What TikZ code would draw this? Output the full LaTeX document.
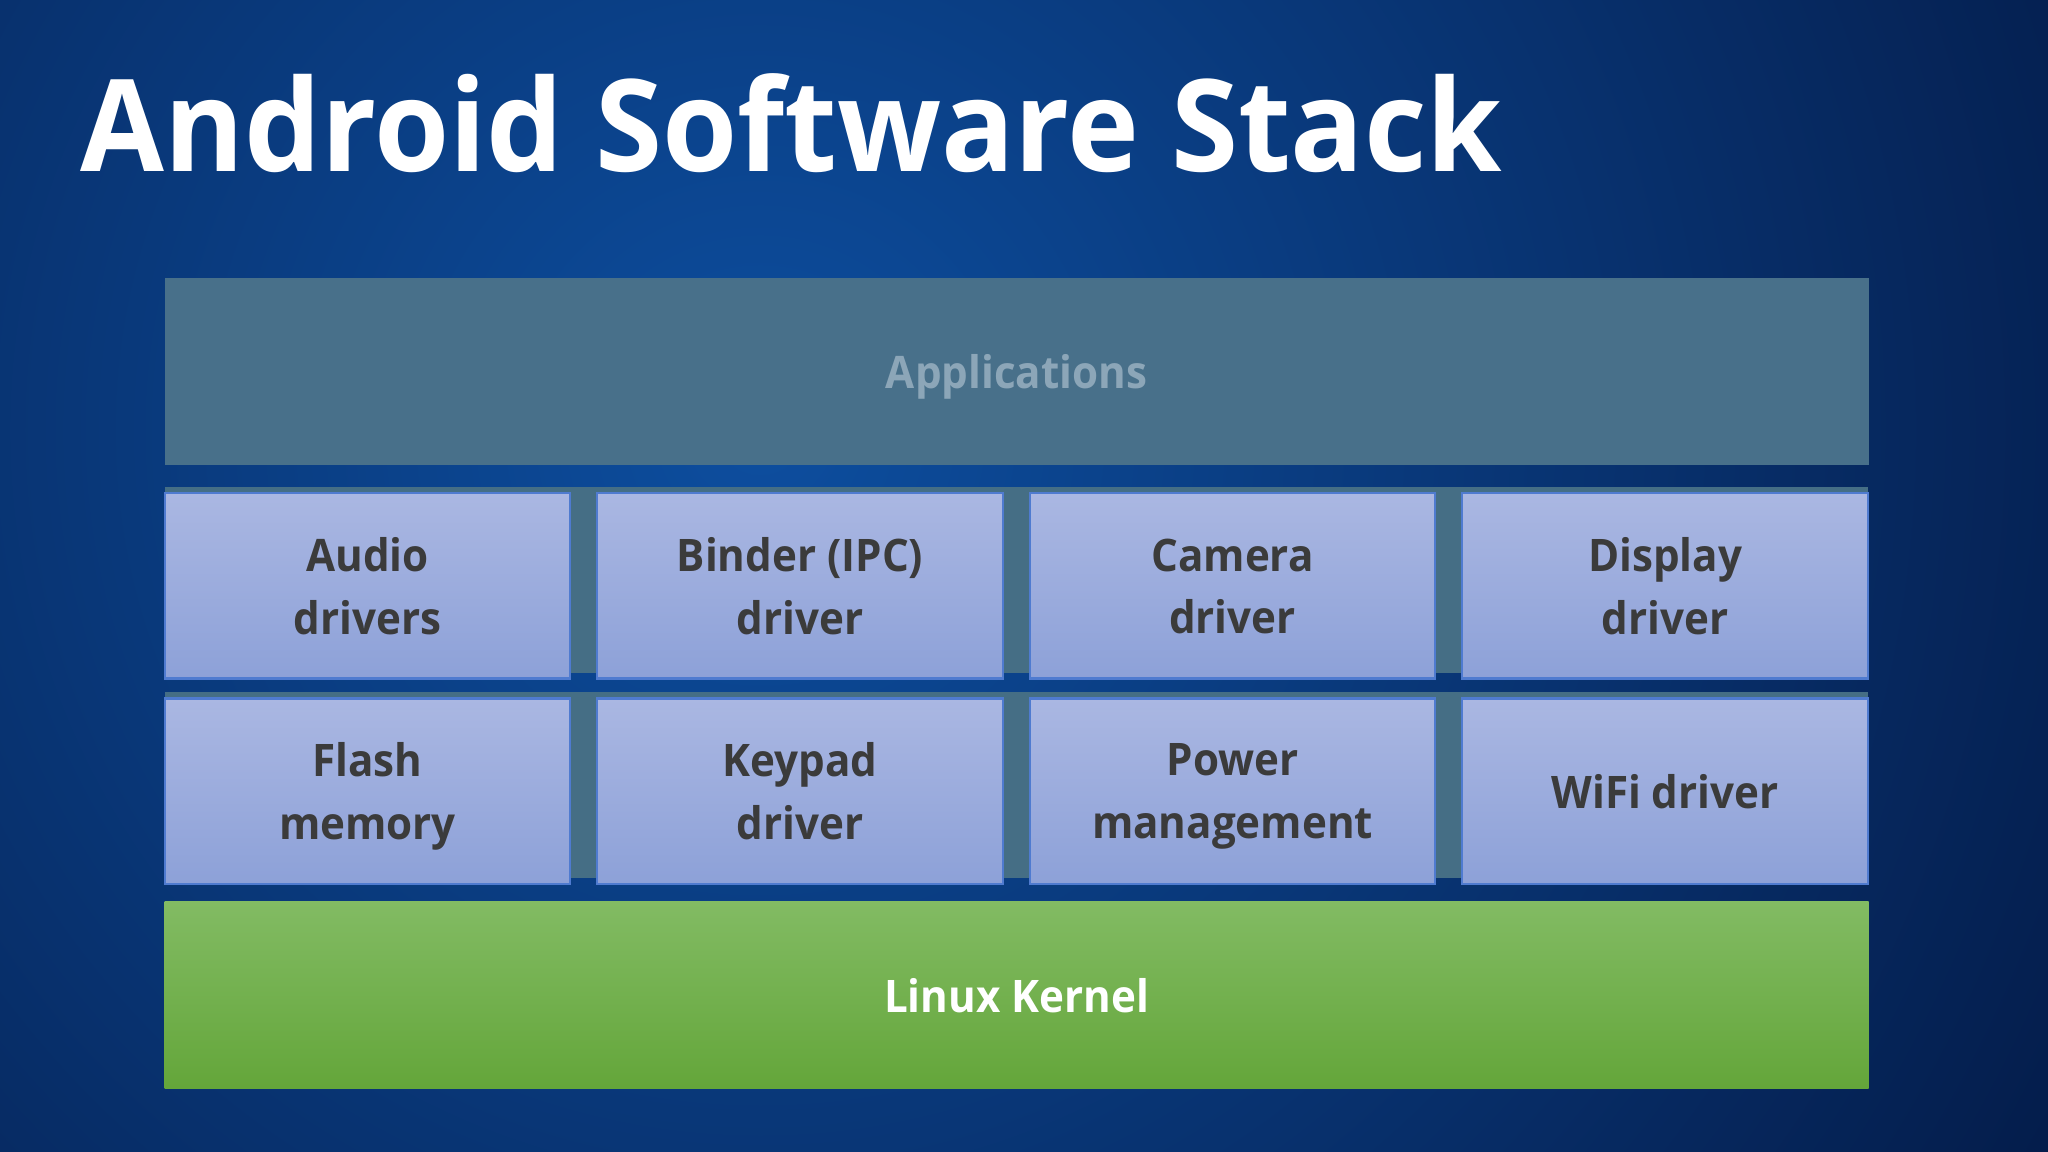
\documentclass[tikz,border=0pt]{standalone}
\usepackage{fontspec}
\setmainfont{Open Sans}
\newfontfamily\titlefont{Open Sans}[FakeStretch=0.95]
\newfontfamily\boxfont{Open Sans}[FakeStretch=0.94]
\usepackage{tikz}
\usetikzlibrary{positioning}
\usepackage{xcolor}
\definecolor{bgin}{HTML}{0D4E9F}
\definecolor{bgout}{HTML}{041C4A}
\definecolor{apps}{HTML}{48708A}
\definecolor{appstext}{HTML}{8CA6B8}
\definecolor{hidden}{HTML}{456E85}
\definecolor{drvtop}{HTML}{AAB7E2}
\definecolor{drvbot}{HTML}{8DA1D8}
\definecolor{drvedge}{HTML}{4F7BD0}
\definecolor{drvtext}{HTML}{3B3B3B}
\definecolor{kerntop}{HTML}{82BB63}
\definecolor{kernbot}{HTML}{64A63A}

\begin{document}
\begin{tikzpicture}[x=0.01cm,y=-0.01cm,
  txt/.style={font=\boxfont\bfseries\fontsize{12.75}{17.7}\selectfont,align=center,
    inner sep=0,text depth=0pt},
  drv/.style={txt,draw=drvedge,line width=0.6pt,top color=drvtop,bottom color=drvbot,
    text=drvtext,minimum width=4.05cm,minimum height=1.85cm},
  wide/.style={txt,minimum width=17.03cm,minimum height=1.86cm}]
\useasboundingbox (0,0) rectangle (2048,1152);
\fill[bgout] (0,0) rectangle (2048,1152);
\begin{scope}
\clip (0,0) rectangle (2048,1152);
\shade[inner color=bgin,outer color=bgout] (760,430) circle (1500);
\end{scope}
\node[anchor=base west,inner sep=0,text=white,font=\titlefont\bfseries\fontsize{36.4}{40}\selectfont]
  (title) at (80,172) {Android Software Stack};
\node[wide,fill=apps,text=appstext] (apps) at (1016.5,371.5) {Applications};
\fill[hidden] (165,487) rectangle (1868,673);
\fill[hidden] (165,692) rectangle (1868,878);
\node[drv] (audio)   at (367.5,586) {Audio\\drivers};
\node[drv] (binder)  at (800,586)   {Binder (IPC)\\driver};
\node[drv] (camera)  at (1232.5,586) {Camera\\driver};
\node[drv] (display) at (1665,586)  {Display\\driver};
\node[drv] (flash)   at (367.5,791) {Flash\\memory};
\node[drv] (keypad)  at (800,791)   {Keypad\\driver};
\node[drv] (power)   at (1232.5,791) {Power\\management};
\node[drv] (wifi)    at (1665,791)  {WiFi driver};
\node[wide,top color=kerntop,bottom color=kernbot,text=white] (kernel) at (1016.5,995) {Linux Kernel};
\end{tikzpicture}
\end{document}
